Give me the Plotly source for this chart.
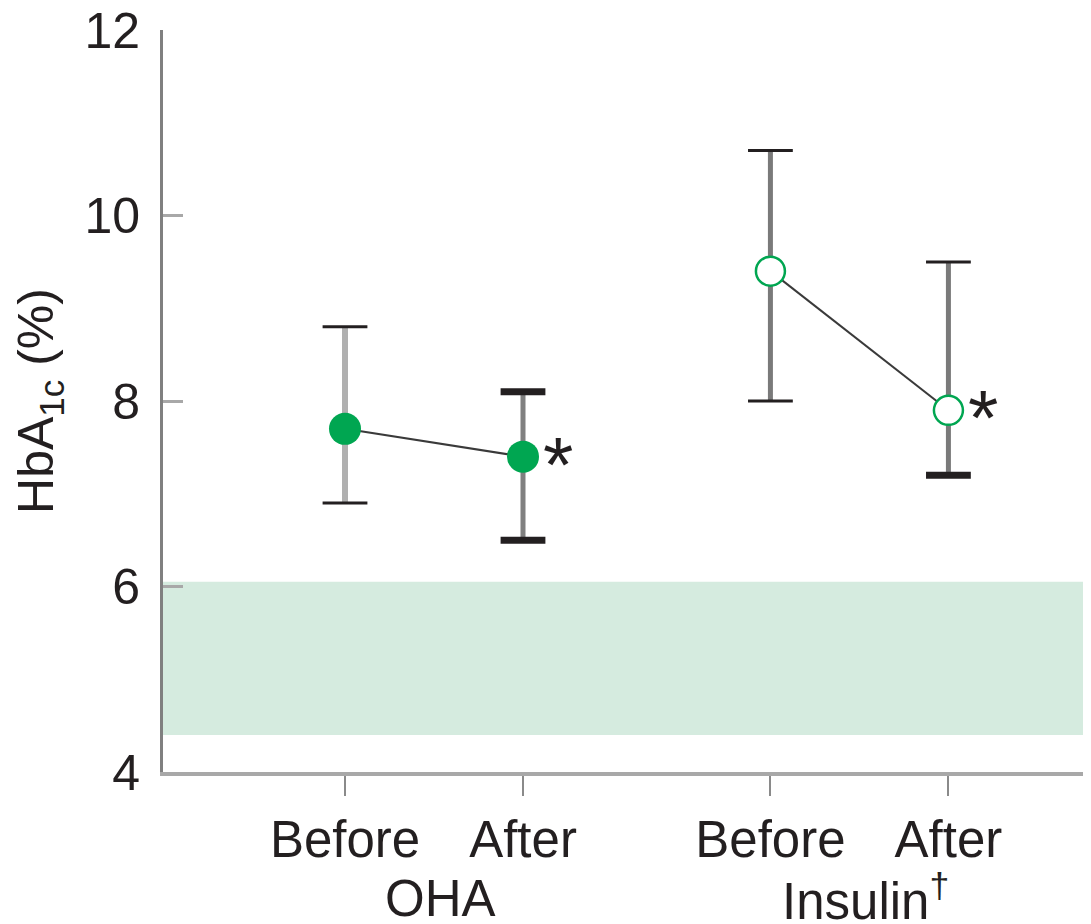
import plotly.graph_objects as go

# ---- data ----
point_labels = ["Before", "After", "Before", "After"]
x_pos = [1.0, 2.0, 3.39, 4.39]
groups = ["OHA", "Insulin<sup>†</sup>"]
hba1c_mean = [7.7, 7.4, 9.4, 7.9]
hba1c_low = [6.9, 6.5, 8.0, 7.2]
hba1c_high = [8.8, 8.1, 10.7, 9.5]
significant = [False, True, False, True]
normal_range = [4.4, 6.05]
y_ticks = [4, 6, 8, 10, 12]

GREEN = "#00a651"
DARK = "#231f20"
FONT = "Liberation Sans, Arial, sans-serif"

fig = go.Figure()

# normal range band
fig.add_shape(type="rect", xref="paper", yref="y", x0=0, x1=1,
              y0=normal_range[0], y1=normal_range[1],
              fillcolor="#d5ebdf", line=dict(width=0), layer="below")

# error bar stems
err_colors = ["#b0b0b0", "#808080", "#7a7a7a", "#7a7a7a"]
err_widths = [6, 5, 5, 5]
for i in range(4):
    fig.add_trace(go.Scatter(x=[x_pos[i], x_pos[i]], y=[hba1c_low[i], hba1c_high[i]],
                             mode="lines", line=dict(color=err_colors[i], width=err_widths[i]),
                             hoverinfo="skip", showlegend=False))

# caps
cap_x = x_pos + x_pos
cap_y = hba1c_high + hba1c_low
cap_w = [3, 7, 3, 3, 3, 7, 3, 7]
fig.add_trace(go.Scatter(x=cap_x, y=cap_y, mode="markers",
                         marker=dict(symbol="line-ew-open", size=32, color=DARK,
                                     line=dict(color=DARK, width=cap_w)),
                         hoverinfo="skip", showlegend=False))

# connecting lines
for g in range(2):
    fig.add_trace(go.Scatter(x=x_pos[2*g:2*g+2], y=hba1c_mean[2*g:2*g+2], mode="lines",
                             line=dict(color="#3a3a3a", width=2),
                             hoverinfo="skip", showlegend=False))

# OHA markers (filled)
fig.add_trace(go.Scatter(x=x_pos[0:2], y=hba1c_mean[0:2], mode="markers",
                         marker=dict(symbol="circle", size=32, color=GREEN,
                                     line=dict(width=0)),
                         showlegend=False))
# Insulin markers (open)
fig.add_trace(go.Scatter(x=x_pos[2:4], y=hba1c_mean[2:4], mode="markers",
                         marker=dict(symbol="circle", size=29, color="white",
                                     line=dict(color=GREEN, width=2.5)),
                         showlegend=False))

annotations = []
for i in range(4):
    if significant[i]:
        annotations.append(dict(x=x_pos[i], y=hba1c_mean[i], xref="x", yref="y",
                                text="*", showarrow=False, xshift=35, yshift=-8,
                                font=dict(family=FONT, size=78, color=DARK)))
for g in range(2):
    annotations.append(dict(x=(x_pos[2*g] + x_pos[2*g+1]) / 2, y=0, xref="x", yref="paper",
                            text=groups[g], showarrow=False, yanchor="middle",
                            yshift=-126, xshift=6,
                            font=dict(family=FONT, size=51, color=DARK)))

fig.update_layout(
    width=1083, height=916,
    margin=dict(l=155, r=0, t=22, b=152, autoexpand=False),
    paper_bgcolor="white", plot_bgcolor="white",
    font=dict(family=FONT, color=DARK),
    annotations=annotations,
    xaxis=dict(range=[-0.0225, 5.191], tickvals=x_pos, ticktext=point_labels,
               automargin=False,
               showgrid=False, zeroline=False, showline=True, linecolor="#a8a8a8",
               linewidth=4, ticks="outside", ticklen=20, tickwidth=2, tickcolor="#8a8a8a",
               tickfont=dict(family=FONT, size=51, color=DARK)),
    yaxis=dict(range=[4, 12], tickvals=y_ticks, showgrid=False, zeroline=False,
               automargin=False,
               showline=True, linecolor="#808080", linewidth=3,
               ticks="inside", ticklen=20, tickwidth=3, tickcolor="#a8a8a8",
               ticklabelstandoff=10, ticklabeloverflow="allow",
               tickfont=dict(family=FONT, size=50, color=DARK),
               title=dict(text="HbA<sub>1c</sub> (%)", standoff=16,
                          font=dict(family=FONT, size=50, color=DARK))),
)

fig.write_html("out.html")
